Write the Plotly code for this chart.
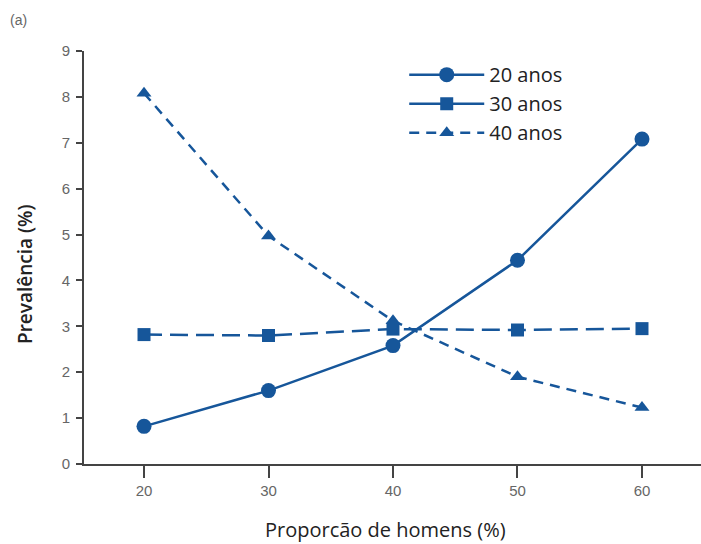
import plotly.graph_objects as go

x_vals = [20, 30, 40, 50, 60]
anos20 = [0.82, 1.6, 2.58, 4.44, 7.08]
anos30 = [2.82, 2.8, 2.94, 2.92, 2.95]
anos40 = [8.08, 4.97, 3.12, 1.9, 1.23]
x_ticks = [20, 30, 40, 50, 60]
y_ticks = [0, 1, 2, 3, 4, 5, 6, 7, 8, 9]
names = ["20 anos", "30 anos", "40 anos"]

color = "#16569a"
fig = go.Figure()

series = [
    (anos20, "circle", "solid", 15, "solid"),
    (anos30, "square", "18px,8px", 13, "solid"),
    (anos40, "triangle-up", "10px,7px", 13, "10px,7px"),
]
for name, (vals, sym, dash, msize, ldash) in zip(names, series):
    fig.add_trace(go.Scatter(
        x=x_vals, y=vals, mode="lines+markers", showlegend=False,
        line=dict(color=color, width=2.5, dash=dash),
        marker=dict(symbol=sym, size=msize, color=color),
    ))
    fig.add_trace(go.Scatter(
        x=[None], y=[None], mode="lines+markers", name=name,
        line=dict(color=color, width=2.5, dash=ldash),
        marker=dict(symbol=sym, size=msize, color=color),
    ))

fig.update_layout(
    width=701, height=544,
    margin=dict(l=84, r=0, t=51, b=80),
    plot_bgcolor="white", paper_bgcolor="white",
    font=dict(family="Liberation Sans, Arial", color="#666666"),
    showlegend=True,
    legend=dict(
        x=0.519, y=0.99, xanchor="left", yanchor="top",
        font=dict(family="Open Sans", size=20, color="#222222"),
        bgcolor="rgba(0,0,0,0)", tracegroupgap=0, itemwidth=75,
    ),
    xaxis=dict(
        range=[15.18, 64.74], tickvals=x_ticks, ticks="outside", ticklen=12,
        tickwidth=2, tickcolor="#444444", showline=True, linecolor="#444444",
        linewidth=2, showgrid=False, zeroline=False, automargin=False,
        tickfont=dict(size=15, color="#666666"),
    ),
    yaxis=dict(
        range=[0, 9], tickvals=y_ticks, ticks="outside", ticklen=6,
        tickwidth=2, tickcolor="#444444", showline=True, linecolor="#444444",
        linewidth=2, showgrid=False, zeroline=False, automargin=False,
        tickfont=dict(size=15, color="#666666"), ticklabelstandoff=3,
    ),
    annotations=[
        dict(text="Proporcão de homens (%)", xref="paper", yref="paper",
             x=0.488, y=-0.158, xanchor="center", yanchor="middle",
             showarrow=False,
             font=dict(family="Open Sans", size=20, color="#222222")),
        dict(text="Prevalência (%)", xref="paper", yref="paper",
             x=-0.0956, y=0.4576, xanchor="center", yanchor="middle",
             textangle=-90, showarrow=False,
             font=dict(family="Open Sans", size=19, color="#222222", weight=600)),
        dict(text="(a)", xref="paper", yref="paper",
             x=-0.123, y=1.099, xanchor="left", yanchor="top",
             showarrow=False, font=dict(size=14, color="#666666")),
    ],
)

fig.write_html(
    "out.html",
    config={"displayModeBar": False},
    post_script="document.body.style.margin='0';document.body.style.overflow='hidden';",
)
